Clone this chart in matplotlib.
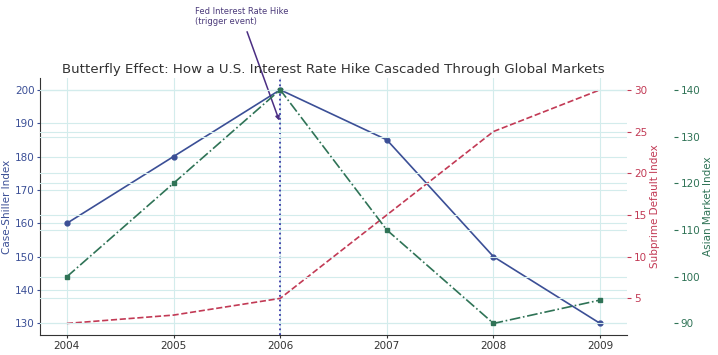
import numpy as np
import matplotlib
matplotlib.use('Agg')
import matplotlib.pyplot as plt

years = [2004, 2005, 2006, 2007, 2008, 2009]
case_shiller = [160, 180, 200, 185, 150, 130]
subprime_default = [2, 3, 5, 15, 25, 30]
asian_market = [100, 120, 140, 110, 90, 95]

blue = '#3b4f96'
red = '#c23a55'
green = '#2f7356'
grid_col = '#d3ecec'

fig = plt.figure(figsize=(7.18, 3.55), dpi=100)
ax1 = fig.add_axes([0.056, 0.056, 0.817, 0.724])

ax1.plot(years, case_shiller, color=blue, marker='o', markersize=3.5, linewidth=1.2, label='Case-Shiller Index')
ax1.set_ylabel('Case-Shiller Index', color=blue, fontsize=7.5, labelpad=2)
ax1.tick_params(axis='y', colors=blue, labelsize=7.5, length=2, pad=2)
ax1.tick_params(axis='x', colors='#333333', labelsize=7.5, length=2, pad=2)
ax1.set_xticks(years)
ax1.grid(True, color=grid_col, linewidth=0.8)
for s in ['top', 'right']:
    ax1.spines[s].set_visible(False)
for s in ['left', 'bottom']:
    ax1.spines[s].set_color('#333333')

ax2 = ax1.twinx()
ax2.plot(years, subprime_default, color=red, linestyle='--', linewidth=1.2, label='Subprime Default Index')
ax2.set_ylabel('Subprime Default Index', color=red, fontsize=7.5, labelpad=2)
ax2.tick_params(axis='y', colors=red, labelsize=7.5, length=3, pad=2)
ax2.grid(True, axis='y', color=grid_col, linewidth=0.8)
for s in ax2.spines.values():
    s.set_visible(False)

ax3 = ax1.twinx()
ax3.spines['right'].set_position(('axes', 1.08))
ax3.plot(years, asian_market, color=green, linestyle='-.', marker='s', markersize=3.5, linewidth=1.2, label='Asian Market Index')
ax3.set_ylabel('Asian Market Index', color=green, fontsize=7.5, labelpad=2)
ax3.tick_params(axis='y', colors=green, labelsize=7.5, length=3, pad=2)
ax3.grid(True, axis='y', color=grid_col, linewidth=0.8)
for s in ax3.spines.values():
    s.set_visible(False)

ax1.axvline(2006, color='#3a3aa8', linestyle=':', linewidth=1.3)
ax1.annotate('Fed Interest Rate Hike\n(trigger event)', xy=(2006, 190), xytext=(2005.2, 219),
             fontsize=6, color='#4b3a7a', ha='left', va='bottom', annotation_clip=False,
             arrowprops=dict(arrowstyle='-|>', color='#4b2e83', linewidth=1.1))

ax1.set_title('Butterfly Effect: How a U.S. Interest Rate Hike Cascaded Through Global Markets',
              fontsize=9.6, color='#333333', pad=4)

fig.savefig('out.png', dpi=100)
